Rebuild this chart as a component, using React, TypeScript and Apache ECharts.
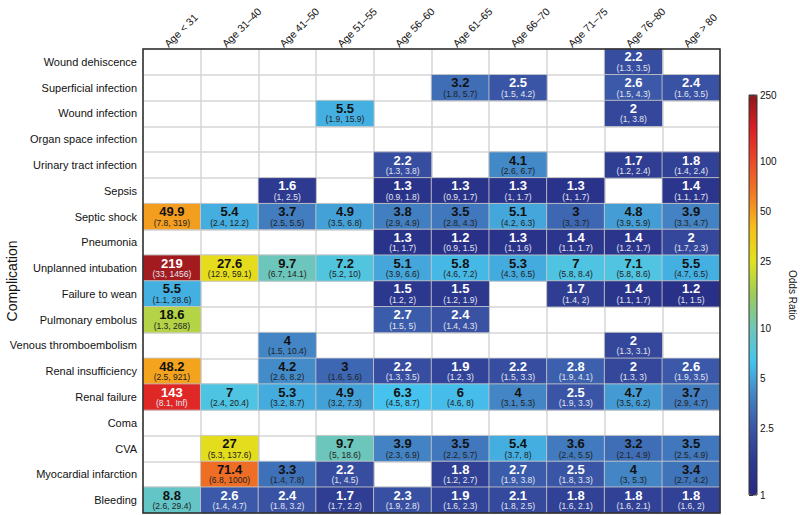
import React, { useEffect, useRef } from "react";
import * as echarts from "echarts";

const ageGroups = [
  "Age < 31", "Age 31–40", "Age 41–50", "Age 51–55", "Age 56–60",
  "Age 61–65", "Age 66–70", "Age 71–75", "Age 76–80", "Age > 80",
];

const complications = [
  "Wound dehiscence", "Superficial infection", "Wound infection", "Organ space infection",
  "Urinary tract infection", "Sepsis", "Septic shock", "Pneumonia", "Unplanned intubation",
  "Failure to wean", "Pulmonary embolus", "Venous thromboembolism", "Renal insufficiency",
  "Renal failure", "Coma", "CVA", "Myocardial infarction", "Bleeding",
];

const N = null;

// Odds ratios, one row per complication, one column per age group
const oddsRatios: (number | null)[][] = [
  [N, N, N, N, N, N, N, N, 2.2, N],
  [N, N, N, N, N, 3.2, 2.5, N, 2.6, 2.4],
  [N, N, N, 5.5, N, N, N, N, 2, N],
  [N, N, N, N, N, N, N, N, N, N],
  [N, N, N, N, 2.2, N, 4.1, N, 1.7, 1.8],
  [N, N, 1.6, N, 1.3, 1.3, 1.3, 1.3, N, 1.4],
  [49.9, 5.4, 3.7, 4.9, 3.8, 3.5, 5.1, 3, 4.8, 3.9],
  [N, N, N, N, 1.3, 1.2, 1.3, 1.4, 1.4, 2],
  [219, 27.6, 9.7, 7.2, 5.1, 5.8, 5.3, 7, 7.1, 5.5],
  [5.5, N, N, N, 1.5, 1.5, N, 1.7, 1.4, 1.2],
  [18.6, N, N, N, 2.7, 2.4, N, N, N, N],
  [N, N, 4, N, N, N, N, N, 2, N],
  [48.2, N, 4.2, 3, 2.2, 1.9, 2.2, 2.8, 2, 2.6],
  [143, 7, 5.3, 4.9, 6.3, 6, 4, 2.5, 4.7, 3.7],
  [N, N, N, N, N, N, N, N, N, N],
  [N, 27, N, 9.7, 3.9, 3.5, 5.4, 3.6, 3.2, 3.5],
  [N, 71.4, 3.3, 2.2, N, 1.8, 2.7, 2.5, 4, 3.4],
  [8.8, 2.6, 2.4, 1.7, 2.3, 1.9, 2.1, 1.8, 1.8, 1.8],
];

// 95% confidence intervals, same layout
const confIntervals: (string | null)[][] = [
  [N, N, N, N, N, N, N, N, "1.3, 3.5", N],
  [N, N, N, N, N, "1.8, 5.7", "1.5, 4.2", N, "1.5, 4.3", "1.6, 3.5"],
  [N, N, N, "1.9, 15.9", N, N, N, N, "1, 3.8", N],
  [N, N, N, N, N, N, N, N, N, N],
  [N, N, N, N, "1.3, 3.8", N, "2.6, 6.7", N, "1.2, 2.4", "1.4, 2.4"],
  [N, N, "1, 2.5", N, "0.9, 1.8", "0.9, 1.7", "1, 1.7", "1, 1.7", N, "1.1, 1.7"],
  ["7.8, 319", "2.4, 12.2", "2.5, 5.5", "3.5, 6.8", "2.9, 4.9", "2.8, 4.3", "4.2, 6.3", "3, 3.7", "3.9, 5.9", "3.3, 4.7"],
  [N, N, N, N, "1, 1.7", "0.9, 1.5", "1, 1.6", "1.1, 1.7", "1.2, 1.7", "1.7, 2.3"],
  ["33, 1456", "12.9, 59.1", "6.7, 14.1", "5.2, 10", "3.9, 6.6", "4.6, 7.2", "4.3, 6.5", "5.8, 8.4", "5.8, 8.6", "4.7, 6.5"],
  ["1.1, 28.6", N, N, N, "1.2, 2", "1.2, 1.9", N, "1.4, 2", "1.1, 1.7", "1, 1.5"],
  ["1.3, 268", N, N, N, "1.5, 5", "1.4, 4.3", N, N, N, N],
  [N, N, "1.5, 10.4", N, N, N, N, N, "1.3, 3.1", N],
  ["2.5, 921", N, "2.6, 8.2", "1.6, 5.6", "1.3, 3.5", "1.2, 3", "1.5, 3.3", "1.9, 4.1", "1.3, 3", "1.9, 3.5"],
  ["8.1, Inf", "2.4, 20.4", "3.2, 8.7", "3.2, 7.3", "4.5, 8.7", "4.6, 8", "3.1, 5.3", "1.9, 3.3", "3.5, 6.2", "2.9, 4.7"],
  [N, N, N, N, N, N, N, N, N, N],
  [N, "5.3, 137.6", N, "5, 18.6", "2.3, 6.9", "2.2, 5.7", "3.7, 8", "2.4, 5.5", "2.1, 4.9", "2.5, 4.9"],
  [N, "6.8, 1000", "1.4, 7.8", "1, 4.5", N, "1.2, 2.7", "1.9, 3.8", "1.8, 3.3", "3, 5.3", "2.7, 4.2"],
  ["2.6, 29.4", "1.4, 4.7", "1.8, 3.2", "1.7, 2.2", "1.9, 2.8", "1.6, 2.3", "1.8, 2.5", "1.6, 2.1", "1.6, 2.1", "1.6, 2"],
];

const colorbarTicks = [1, 2.5, 5, 10, 25, 50, 100, 250];
const orMin = 1;
const orMax = 250;

const palette = [
  "#272a82", "#2d3990", "#3a55a6", "#4384c4", "#45c3ee", "#70c6b8", "#9ccb5c",
  "#e0e31e", "#f6c019", "#f17c25", "#ea4a28", "#dc1f26", "#8a1a1c",
];

const FONT = "'Liberation Sans', Arial, Helvetica, sans-serif";

export default function App() {
  const ref = useRef<HTMLDivElement>(null);

  useEffect(() => {
    document.body.style.margin = "0";
    if (!ref.current) return;
    const chart = echarts.init(ref.current, undefined, { renderer: "svg" });

    const data: any[] = [];
    oddsRatios.forEach((row, r) => {
      row.forEach((v, c) => {
        if (v !== null) data.push({ value: [c, r, Math.log10(v)] });
      });
    });

    const logTicks = colorbarTicks.map((t) => Math.log10(t));

    const option: any = {
      animation: false,
      textStyle: { fontFamily: FONT },
      grid: [
        { left: 143, top: 49, width: 577, height: 464, outerBoundsMode: "none", containLabel: false },
        { left: 749, top: 95, width: 8, height: 400, outerBoundsMode: "none", containLabel: false },
      ],
      xAxis: [
        {
          type: "category",
          data: ageGroups,
          position: "top",
          gridIndex: 0,
          axisLine: { show: false },
          axisTick: { show: false },
          axisLabel: {
            rotate: -45,
            fontSize: 10.5,
            color: "#111",
            margin: 9,
            padding: [0, 0, 0, -8],
            fontFamily: FONT,
          },
          splitLine: { show: true, lineStyle: { color: "#d6d6d6", width: 1.5 } },
        },
        { type: "value", gridIndex: 1, show: false, min: 0, max: 1 },
      ],
      yAxis: [
        {
          type: "category",
          data: complications,
          inverse: true,
          gridIndex: 0,
          axisLine: { show: false },
          axisTick: { show: false },
          axisLabel: { fontSize: 11, color: "#111", margin: 6, fontFamily: FONT },
          splitLine: { show: true, lineStyle: { color: "#d6d6d6", width: 1.5 } },
          name: "Complication",
          nameLocation: "middle",
          nameGap: 124,
          nameMoveOverlap: false,
          nameTextStyle: { fontSize: 14, color: "#111", fontFamily: FONT },
        },
        {
          type: "value",
          gridIndex: 1,
          min: Math.log10(orMin),
          max: Math.log10(orMax),
          position: "right",
          axisLine: { show: false },
          axisTick: { show: true, length: 4, customValues: logTicks, lineStyle: { color: "#333" } },
          axisLabel: {
            customValues: logTicks,
            fontSize: 10,
            color: "#111",
            margin: 3,
            fontFamily: FONT,
            formatter: (v: number) => String(Math.round(Math.pow(10, v) * 10) / 10),
          },
          splitLine: { show: false },
          name: "Odds Ratio",
          nameLocation: "middle",
          nameRotate: -90,
          nameGap: 30,
          nameMoveOverlap: false,
          nameTextStyle: { fontSize: 10, color: "#111", fontFamily: FONT },
        },
      ],
      visualMap: {
        type: "continuous",
        seriesIndex: 0,
        dimension: 2,
        min: Math.log10(orMin),
        max: Math.log10(orMax),
        orient: "vertical",
        left: 749,
        top: 95,
        padding: 0,
        itemWidth: 8,
        itemHeight: 400,
        calculable: false,
        showLabel: false,
        text: null,
        inRange: { color: palette },
      },
      graphic: [
        {
          type: "rect",
          shape: { x: 143, y: 49, width: 577, height: 464 },
          style: { fill: "none", stroke: "#2a2a2a", lineWidth: 1.5 },
          z: 100,
        },
        {
          type: "rect",
          shape: { x: 749, y: 95, width: 8, height: 400 },
          style: { fill: "none", stroke: "#333", lineWidth: 1 },
          z: 100,
        },
      ],
      series: [
        {
          type: "heatmap",
          xAxisIndex: 0,
          yAxisIndex: 0,
          data,
          itemStyle: { borderColor: "rgba(200,200,200,0.85)", borderWidth: 1 },
          emphasis: { disabled: true },
          label: {
            show: true,
            fontFamily: FONT,
            formatter: (p: any) => {
              const c = p.value[0];
              const r = p.value[1];
              const v = oddsRatios[r][c] as number;
              const ci = confIntervals[r][c];
              const dark = v >= 3 && v < 100;
              return dark ? `{vd|${v}}\n{cd|(${ci})}` : `{vl|${v}}\n{cl|(${ci})}`;
            },
            rich: {
              vd: { fontSize: 13, fontWeight: "bold", color: "#111", lineHeight: 12, fontFamily: FONT },
              cd: { fontSize: 8.5, color: "#222", lineHeight: 10, fontFamily: FONT },
              vl: { fontSize: 13, fontWeight: "bold", color: "#fff", lineHeight: 12, fontFamily: FONT },
              cl: { fontSize: 8.5, color: "#e4e6f0", lineHeight: 10, fontFamily: FONT },
            },
          },
        },
      ],
    };

    chart.setOption(option);
    return () => chart.dispose();
  }, []);

  return <div ref={ref} style={{ width: 800, height: 515 }} />;
}
